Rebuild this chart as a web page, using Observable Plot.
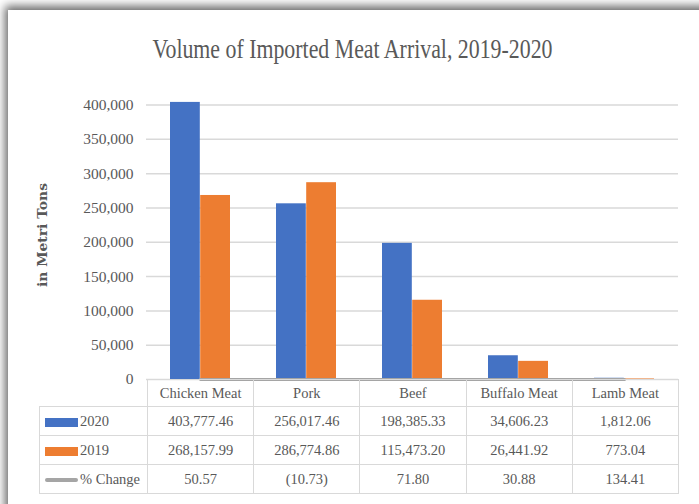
<!DOCTYPE html>
<html><head><meta charset="utf-8">
<script src="https://cdn.jsdelivr.net/npm/d3@7"></script>
<script src="https://cdn.jsdelivr.net/npm/@observablehq/plot@0.6"></script>
<style>
body{margin:0;background:#fff;}
#wrap{position:relative;width:699px;height:504px;overflow:hidden;background:#fff;}
#card{position:absolute;left:8px;top:10px;width:720px;height:520px;background:#fff;box-shadow:-3px -4px 9px rgba(0,0,0,0.6);}
#chart{position:absolute;left:0;top:0;}
#title{position:absolute;left:0;top:0;}
#tbl{position:absolute;left:39px;top:379px;border-collapse:collapse;table-layout:fixed;width:639px;font-family:"Liberation Serif",serif;font-size:14.5px;color:#595959;}
#tbl td{border:1.5px solid #d9d9d9;text-align:center;padding:0;height:28px;white-space:nowrap;}
#tbl tr.head td{height:26px;}
#tbl tr.head td.blank{border:none;border-right:1.5px solid #d9d9d9;}
#tbl td.lab{text-align:left;padding-left:5px;}
.key{display:inline-block;width:33px;vertical-align:middle;margin-right:2px;}
#chart text{font-size:15.5px;}
</style></head>
<body><div id="wrap"><div id="card"></div></div>
<script>
const categories = ["Chicken Meat","Pork","Beef","Buffalo Meat","Lamb Meat"];
const series = ["2020","2019","% Change"];
const v2020 = [403777.46, 256017.46, 198385.33, 34606.23, 1812.06];
const v2019 = [268157.99, 286774.86, 115473.20, 26441.92, 773.04];
const pctChange = [50.57, -10.73, 71.80, 30.88, 134.41];
const yTicks = [0,50000,100000,150000,200000,250000,300000,350000,400000];
const titleText = "Volume of Imported Meat Arrival, 2019-2020";
const yLabel = "in Metri Tons";

const colors = {"2020":"#4472C4","2019":"#ED7D31","% Change":"#A5A5A5"};
const rows = categories.map((c,i)=>({cat:c, a:v2020[i], b:v2019[i], p:pctChange[i]}));

const chart = Plot.plot({
  width:699, height:400,
  marginLeft:146, marginRight:21, marginTop:104.5, marginBottom:21,
  style:{fontFamily:"Liberation Serif, serif", fontSize:"15.5px", color:"#595959", background:"transparent"},
  x:{domain:categories, padding:0, axis:null},
  y:{domain:[0,400000], axis:null},
  marks:[
    Plot.gridY({ticks:yTicks, stroke:"#d9d9d9", strokeOpacity:1, strokeWidth:1.5}),
    Plot.barY(rows,{x:"cat", y:"a", fill:colors["2020"], insetLeft:23, insetRight:53.2}),
    Plot.barY(rows,{x:"cat", y:"b", fill:colors["2019"], insetLeft:53.2, insetRight:23}),
    Plot.lineY(rows,{x:"cat", y:"p", stroke:colors["% Change"], strokeWidth:3}),
    Plot.axisY({ticks:yTicks, tickSize:0, tickPadding:13, tickFormat:d3.format(","), label:null, fontSize:15.5})
  ]
});
chart.id = "chart";
document.getElementById("wrap").appendChild(chart);

// title and axis label overlay
const ns = "http://www.w3.org/2000/svg";
const tsvg = document.createElementNS(ns,"svg");
tsvg.setAttribute("id","title"); tsvg.setAttribute("width","699"); tsvg.setAttribute("height","300");
const tt = document.createElementNS(ns,"text");
tt.setAttribute("x","352.5"); tt.setAttribute("y","58");
tt.setAttribute("text-anchor","middle");
tt.setAttribute("font-family","Liberation Serif, serif");
tt.setAttribute("font-size","28");
tt.setAttribute("fill","#595959");
tt.setAttribute("textLength","400");
tt.setAttribute("lengthAdjust","spacingAndGlyphs");
tt.textContent = titleText;
tsvg.appendChild(tt);
const yl = document.createElementNS(ns,"text");
yl.setAttribute("transform","translate(46.5,235) rotate(-90)");
yl.setAttribute("text-anchor","middle");
yl.setAttribute("font-family","DejaVu Serif, serif");
yl.setAttribute("font-weight","600");
yl.setAttribute("font-size","12.5");
yl.setAttribute("fill","#595959");
yl.setAttribute("textLength","104");
yl.setAttribute("lengthAdjust","spacingAndGlyphs");
yl.textContent = yLabel;
tsvg.appendChild(yl);
document.getElementById("wrap").appendChild(tsvg);

// data table
const fmt = d3.format(",.2f");
const pfmt = v => v < 0 ? "(" + fmt(-v) + ")" : fmt(v);
const tbl = document.createElement("table");
tbl.id = "tbl";
const cg = document.createElement("colgroup");
[108].concat(categories.map(()=>106.2)).forEach(w=>{const c=document.createElement("col");c.style.width=w+"px";cg.appendChild(c);});
tbl.appendChild(cg);
const head = document.createElement("tr"); head.className="head";
const blank = document.createElement("td"); blank.className="blank"; head.appendChild(blank);
categories.forEach(c=>{const td=document.createElement("td");td.textContent=c;head.appendChild(td);});
tbl.appendChild(head);
const seriesVals = [v2020, v2019, pctChange];
series.forEach((s,si)=>{
  const tr=document.createElement("tr");
  const lab=document.createElement("td"); lab.className="lab";
  const key=document.createElement("span"); key.className="key";
  if(s==="% Change"){key.style.height="4px";key.style.borderRadius="2px";}
  else {key.style.height="9px";}
  key.style.background=colors[s];
  lab.appendChild(key);
  lab.appendChild(document.createTextNode(s));
  tr.appendChild(lab);
  seriesVals[si].forEach(v=>{const td=document.createElement("td");td.textContent = s==="% Change" ? pfmt(v) : fmt(v);tr.appendChild(td);});
  tbl.appendChild(tr);
});
document.getElementById("wrap").appendChild(tbl);
</script>
</body></html>
